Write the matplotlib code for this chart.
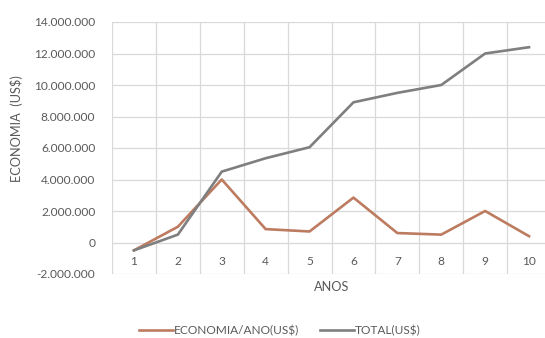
import matplotlib
matplotlib.use("Agg")
import matplotlib.pyplot as plt
from matplotlib.ticker import FuncFormatter, MultipleLocator

anos = [1, 2, 3, 4, 5, 6, 7, 8, 9, 10]
economia_ano = [-0.5e6, 1.0e6, 4.0e6, 0.85e6, 0.7e6, 2.85e6, 0.6e6, 0.5e6, 2.0e6, 0.4e6]
total = [-0.5e6, 0.5e6, 4.5e6, 5.35e6, 6.05e6, 8.9e6, 9.5e6, 10.0e6, 12.0e6, 12.4e6]
serie_labels = ["ECONOMIA/ANO(US$)", "TOTAL(US$)"]

plt.rcParams["font.family"] = ["Lato", "DejaVu Sans"]
text_color = "#595959"
grid_color = "#D9D9D9"

fig = plt.figure(figsize=(5.45, 3.38), dpi=100)
ax = fig.add_axes([112 / 545, 64 / 338, 439 / 545, 252 / 338])

ax.plot(anos, economia_ano, color="#BD7B60", lw=1.9, label=serie_labels[0], zorder=3)
ax.plot(anos, total, color="#7F7F7F", lw=1.9, label=serie_labels[1], zorder=3)

ax.set_xlim(0.5, 10.5)
ax.set_ylim(-2e6, 14e6)
ax.yaxis.set_major_locator(MultipleLocator(2e6))
ax.yaxis.set_major_formatter(FuncFormatter(lambda v, p: f"{v:,.0f}".replace(",", ".")))

ax.set_xticks(anos)
ax.set_xticks([a + 0.5 for a in [0] + anos], minor=True)
ax.grid(True, which="minor", axis="x", color=grid_color, lw=0.9)
ax.grid(True, which="major", axis="y", color=grid_color, lw=0.9)
ax.grid(False, which="major", axis="x")
ax.set_axisbelow(True)

for s in ["top", "right", "left"]:
    ax.spines[s].set_visible(False)
ax.spines["bottom"].set_position(("data", 0))
ax.spines["bottom"].set_color(grid_color)

ax.tick_params(axis="x", which="both", length=0, pad=10, labelsize=8.6, labelcolor=text_color)
ax.tick_params(axis="y", length=0, pad=12, labelsize=8.6, labelcolor=text_color)

ax.set_xlabel("ANOS", fontsize=9.2, color=text_color)
ax.xaxis.set_label_coords(0.5, -0.052)
ax.xaxis.label.set_va("center")

fig.text(17 / 545, 1 - 129 / 338, "ECONOMIA  (US$)", rotation=90, ha="center", va="center",
         fontsize=9.2, color=text_color)

leg = fig.legend(loc="center", bbox_to_anchor=(280 / 545, 7 / 338), ncol=2, frameon=False,
                 fontsize=8.6, handlelength=2.85, handletextpad=0.1, columnspacing=1.7)
for t in leg.get_texts():
    t.set_color(text_color)

fig.savefig("out.png", dpi=100)
